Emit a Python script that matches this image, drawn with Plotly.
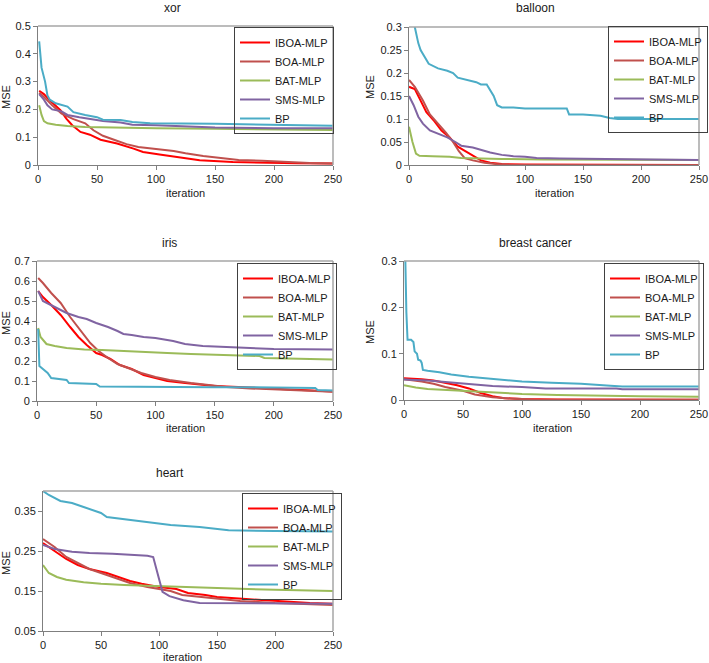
import plotly.graph_objects as go

W, H = 709, 663
NAMES = ["IBOA-MLP", "BOA-MLP", "BAT-MLP", "SMS-MLP", "BP"]
COLORS = ["#FF0000", "#C0504D", "#9BBB59", "#8064A2", "#4BACC6"]

# ---------------- xor ----------------
XOR_IBOA_IT = [1, 5, 10, 19, 24, 29, 36, 44, 53, 67, 81, 89, 103, 123, 137, 165, 194, 220, 250]
XOR_IBOA = [0.267, 0.255, 0.233, 0.197, 0.167, 0.143, 0.119, 0.109, 0.091, 0.077, 0.059, 0.047, 0.038, 0.026, 0.017, 0.011, 0.008, 0.006, 0.005]
XOR_BOA_IT = [1, 5, 12, 20, 30, 40, 47, 55, 65, 75, 85, 100, 115, 125, 140, 155, 170, 190, 210, 230, 250]
XOR_BOA = [0.26, 0.245, 0.215, 0.185, 0.165, 0.15, 0.125, 0.105, 0.09, 0.075, 0.065, 0.058, 0.05, 0.042, 0.032, 0.025, 0.018, 0.015, 0.01, 0.007, 0.005]
XOR_BAT_IT = [1, 3, 5, 8, 15, 25, 40, 60, 100, 150, 200, 250]
XOR_BAT = [0.215, 0.18, 0.158, 0.15, 0.145, 0.14, 0.137, 0.135, 0.132, 0.13, 0.128, 0.126]
XOR_SMS_IT = [1, 5, 8, 12, 20, 25, 35, 45, 55, 70, 80, 100, 130, 150, 200, 250]
XOR_SMS = [0.255, 0.235, 0.215, 0.2, 0.193, 0.18, 0.172, 0.165, 0.158, 0.153, 0.145, 0.143, 0.138, 0.135, 0.132, 0.132]
XOR_BP_IT = [1, 3, 6, 8, 10, 15, 25, 30, 40, 50, 55, 70, 80, 95, 150, 200, 250]
XOR_BP = [0.445, 0.35, 0.3, 0.25, 0.235, 0.222, 0.21, 0.19, 0.18, 0.172, 0.163, 0.162, 0.155, 0.15, 0.148, 0.145, 0.141]

# ---------------- balloon ----------------
BAL_IBOA_IT = [0, 5, 10, 15, 22, 28, 35, 42, 50, 57, 62, 70, 80, 100, 250]
BAL_IBOA = [0.17, 0.165, 0.14, 0.115, 0.095, 0.075, 0.06, 0.04, 0.028, 0.018, 0.01, 0.005, 0.002, 0.001, 0.0]
BAL_BOA_IT = [0, 5, 12, 18, 25, 32, 38, 43, 48, 55, 65, 75, 90, 250]
BAL_BOA = [0.185, 0.17, 0.14, 0.11, 0.09, 0.07, 0.05, 0.03, 0.015, 0.01, 0.005, 0.002, 0.0, 0.0]
BAL_BAT_IT = [0, 3, 6, 9, 20, 35, 45, 60, 80, 115, 250]
BAL_BAT = [0.083, 0.05, 0.025, 0.02, 0.019, 0.018, 0.015, 0.014, 0.013, 0.012, 0.011]
BAL_SMS_IT = [0, 4, 8, 12, 18, 25, 33, 40, 45, 55, 62, 70, 80, 90, 100, 110, 130, 170, 200, 250]
BAL_SMS = [0.15, 0.13, 0.105, 0.09, 0.075, 0.068, 0.06, 0.05, 0.042, 0.038, 0.033, 0.027, 0.022, 0.019, 0.018, 0.015, 0.014, 0.013, 0.012, 0.011]
BAL_BP_IT = [0, 5, 8, 10, 17, 25, 33, 38, 42, 50, 58, 62, 67, 73, 76, 80, 90, 100, 136, 138, 150, 165, 173, 180, 250]
BAL_BP = [0.4, 0.3, 0.265, 0.25, 0.22, 0.21, 0.205, 0.2, 0.19, 0.185, 0.18, 0.175, 0.175, 0.15, 0.13, 0.125, 0.125, 0.123, 0.123, 0.11, 0.11, 0.107, 0.102, 0.1, 0.1]

# ---------------- iris ----------------
IRIS_IBOA_IT = [1, 5, 12, 20, 28, 35, 42, 50, 55, 62, 70, 80, 90, 100, 110, 125, 140, 150, 170, 190, 210, 235, 250]
IRIS_IBOA = [0.55, 0.52, 0.48, 0.43, 0.37, 0.32, 0.28, 0.24, 0.23, 0.21, 0.18, 0.16, 0.13, 0.115, 0.1, 0.09, 0.08, 0.075, 0.07, 0.065, 0.06, 0.05, 0.048]
IRIS_BOA_IT = [1, 5, 12, 20, 28, 37, 45, 52, 60, 68, 77, 88, 100, 112, 130, 145, 160, 180, 200, 225, 250]
IRIS_BOA = [0.615, 0.59, 0.54, 0.49, 0.42, 0.35, 0.29, 0.25, 0.215, 0.185, 0.165, 0.14, 0.12, 0.105, 0.09, 0.08, 0.07, 0.063, 0.058, 0.052, 0.046]
IRIS_BAT_IT = [1, 3, 8, 15, 25, 40, 55, 70, 90, 110, 130, 150, 175, 188, 192, 220, 250]
IRIS_BAT = [0.365, 0.32, 0.285, 0.275, 0.265, 0.258, 0.255, 0.25, 0.245, 0.24, 0.235, 0.232, 0.228, 0.225, 0.215, 0.212, 0.208]
IRIS_SMS_IT = [1, 5, 15, 25, 35, 42, 50, 60, 68, 73, 80, 90, 100, 115, 125, 140, 160, 180, 200, 250]
IRIS_SMS = [0.55, 0.5, 0.47, 0.44, 0.42, 0.41, 0.39, 0.37, 0.35, 0.335, 0.33, 0.32, 0.315, 0.3, 0.285, 0.275, 0.27, 0.265, 0.26, 0.258]
IRIS_BP_IT = [1, 2, 5, 9, 12, 20, 25, 27, 35, 50, 53, 70, 90, 150, 200, 235, 237, 250]
IRIS_BP = [0.36, 0.175, 0.16, 0.14, 0.115, 0.11, 0.105, 0.09, 0.088, 0.085, 0.072, 0.072, 0.07, 0.069, 0.068, 0.065, 0.055, 0.053]

# ---------------- breast cancer ----------------
BC_IBOA_IT = [0, 15, 25, 35, 45, 55, 65, 75, 85, 100, 130, 250]
BC_IBOA = [0.047, 0.045, 0.042, 0.037, 0.032, 0.025, 0.015, 0.008, 0.004, 0.002, 0.001, 0.0005]
BC_BOA_IT = [0, 15, 25, 35, 50, 60, 75, 90, 110, 250]
BC_BOA = [0.045, 0.04, 0.035, 0.028, 0.02, 0.012, 0.006, 0.003, 0.001, 0.0005]
BC_BAT_IT = [0, 10, 20, 35, 50, 70, 100, 130, 170, 200, 250]
BC_BAT = [0.032, 0.027, 0.024, 0.022, 0.019, 0.016, 0.013, 0.011, 0.009, 0.008, 0.007]
BC_SMS_IT = [0, 20, 40, 55, 70, 75, 100, 120, 180, 185, 250]
BC_SMS = [0.044, 0.042, 0.038, 0.035, 0.032, 0.03, 0.028, 0.025, 0.025, 0.023, 0.023]
BC_BP_IT = [0, 1, 2, 3, 6, 8, 9, 11, 12, 14, 15, 16, 20, 30, 40, 55, 75, 90, 100, 125, 150, 175, 185, 250]
BC_BP = [0.45, 0.3, 0.19, 0.13, 0.13, 0.125, 0.105, 0.1, 0.087, 0.085, 0.08, 0.065, 0.063, 0.06, 0.055, 0.05, 0.045, 0.042, 0.04, 0.037, 0.035, 0.031, 0.029, 0.029]

# ---------------- heart ----------------
HE_IBOA_IT = [0, 10, 20, 30, 40, 55, 65, 75, 85, 100, 115, 125, 140, 150, 175, 200, 230, 250]
HE_IBOA = [0.27, 0.25, 0.23, 0.215, 0.205, 0.195, 0.185, 0.175, 0.168, 0.16, 0.155, 0.145, 0.14, 0.135, 0.13, 0.125, 0.12, 0.118]
HE_BOA_IT = [0, 10, 20, 30, 40, 50, 60, 75, 90, 100, 110, 120, 135, 150, 170, 200, 250]
HE_BOA = [0.28, 0.26, 0.235, 0.22, 0.205, 0.195, 0.185, 0.17, 0.16, 0.155, 0.15, 0.14, 0.135, 0.13, 0.125, 0.12, 0.115]
HE_BAT_IT = [0, 5, 12, 20, 35, 50, 70, 100, 120, 150, 180, 200, 250]
HE_BAT = [0.215, 0.195, 0.185, 0.178, 0.172, 0.168, 0.165, 0.162, 0.16, 0.158, 0.155, 0.153, 0.15]
HE_SMS_IT = [0, 10, 25, 40, 60, 80, 90, 95, 98, 101, 103, 109, 121, 135, 250]
HE_SMS = [0.265, 0.255, 0.248, 0.245, 0.243, 0.24, 0.238, 0.235, 0.202, 0.169, 0.148, 0.137, 0.127, 0.12, 0.118]
HE_BP_IT = [0, 5, 15, 25, 35, 45, 50, 55, 70, 85, 95, 110, 135, 150, 160, 200, 250]
HE_BP = [0.4, 0.39, 0.375, 0.37, 0.36, 0.35, 0.345, 0.335, 0.33, 0.325, 0.32, 0.315, 0.31, 0.305, 0.302, 0.3, 0.299]

TITLES = ["xor", "balloon", "iris", "breast cancer", "heart"]
Y_RANGES = [[0, 0.5], [0, 0.3], [0, 0.7], [0, 0.3], [0.05, 0.4]]
Y_TICKS = [[0, 0.1, 0.2, 0.3, 0.4, 0.5],
           [0, 0.05, 0.1, 0.15, 0.2, 0.25, 0.3],
           [0, 0.1, 0.2, 0.3, 0.4, 0.5, 0.6, 0.7],
           [0, 0.1, 0.2, 0.3],
           [0.05, 0.15, 0.25, 0.35]]
X_TICKS = [0, 50, 100, 150, 200, 250]

PANELS = [
    [(XOR_IBOA_IT, XOR_IBOA), (XOR_BOA_IT, XOR_BOA), (XOR_BAT_IT, XOR_BAT), (XOR_SMS_IT, XOR_SMS), (XOR_BP_IT, XOR_BP)],
    [(BAL_IBOA_IT, BAL_IBOA), (BAL_BOA_IT, BAL_BOA), (BAL_BAT_IT, BAL_BAT), (BAL_SMS_IT, BAL_SMS), (BAL_BP_IT, BAL_BP)],
    [(IRIS_IBOA_IT, IRIS_IBOA), (IRIS_BOA_IT, IRIS_BOA), (IRIS_BAT_IT, IRIS_BAT), (IRIS_SMS_IT, IRIS_SMS), (IRIS_BP_IT, IRIS_BP)],
    [(BC_IBOA_IT, BC_IBOA), (BC_BOA_IT, BC_BOA), (BC_BAT_IT, BC_BAT), (BC_SMS_IT, BC_SMS), (BC_BP_IT, BC_BP)],
    [(HE_IBOA_IT, HE_IBOA), (HE_BOA_IT, HE_BOA), (HE_BAT_IT, HE_BAT), (HE_SMS_IT, HE_SMS), (HE_BP_IT, HE_BP)],
]

# layout in pixels: plot area (left, right, top, bottom)
BOXES = [(38, 333, 26, 165), (409, 699, 27, 165), (37, 333, 261, 401), (404, 699, 261, 400), (43, 333, 491, 631)]
LEGENDS = [(234, 27), (608, 26), (237, 263), (604, 263), (242, 493)]
TITLE_POS = [(172, 8), (535, 8), (169, 243), (535, 243), (170, 473)]
XT_POS = [(185, 193), (554, 193), (185, 428), (552, 428), (182, 657)]
YT_POS = [(6, 97), (370, 87), (6, 323), (370, 332), (6, 563)]

FONT = "Arial, 'Liberation Sans', sans-serif"
fig = go.Figure()
layout = {}
annotations = []
shapes = []
for p in range(5):
    sfx = "" if p == 0 else str(p + 1)
    xa, ya = "x" + sfx, "y" + sfx
    lg = "legend" + sfx
    for k in range(5):
        it, val = PANELS[p][k]
        fig.add_trace(go.Scatter(x=it, y=val, mode="lines", name=NAMES[k],
                                 line=dict(color=COLORS[k], width=2),
                                 xaxis=xa, yaxis=ya, legend=lg, showlegend=True))
    l, r, t, b = BOXES[p]
    layout["xaxis" + sfx] = dict(domain=[l / W, r / W], anchor=ya, range=[0, 250], tickvals=X_TICKS,
                                 showline=True, linecolor="#7f7f7f", linewidth=1, ticks="outside",
                                 ticklen=4, tickcolor="#7f7f7f", showgrid=False, zeroline=False,
                                 automargin=False,
                                 tickfont=dict(size=11, color="#1a1a1a", family=FONT))
    layout["yaxis" + sfx] = dict(domain=[1 - b / H, 1 - t / H], anchor=xa, range=Y_RANGES[p], tickvals=Y_TICKS[p],
                                 showline=True, linecolor="#7f7f7f", linewidth=1, ticks="outside",
                                 ticklen=4, tickcolor="#7f7f7f", showgrid=False, zeroline=False,
                                 automargin=False,
                                 tickfont=dict(size=11, color="#1a1a1a", family=FONT))
    shapes.append(dict(type="line", xref="paper", yref="paper", x0=l / W, x1=r / W, y0=1 - t / H, y1=1 - t / H,
                       line=dict(color="#a6a6a6", width=1.5)))
    shapes.append(dict(type="line", xref="paper", yref="paper", x0=r / W, x1=r / W, y0=1 - t / H, y1=1 - b / H,
                       line=dict(color="#a6a6a6", width=1.5)))
    lx, ly = LEGENDS[p]
    layout[lg] = dict(x=lx / W, y=1 - ly / H, xanchor="left", yanchor="top", bgcolor="rgba(0,0,0,0)",
                      bordercolor="#404040", borderwidth=1, itemwidth=30, tracegroupgap=0,
                      font=dict(size=11, color="#1a1a1a", family=FONT))
    tx, ty = TITLE_POS[p]
    annotations.append(dict(text=TITLES[p], x=tx / W, y=1 - ty / H, xref="paper", yref="paper",
                            showarrow=False, xanchor="center", yanchor="middle",
                            font=dict(size=12, color="#1a1a1a", family=FONT)))
    xx, xy = XT_POS[p]
    annotations.append(dict(text="iteration", x=xx / W, y=1 - xy / H, xref="paper", yref="paper",
                            showarrow=False, xanchor="center", yanchor="middle",
                            font=dict(size=11, color="#1a1a1a", family=FONT)))
    yx, yy = YT_POS[p]
    annotations.append(dict(text="MSE", x=yx / W, y=1 - yy / H, xref="paper", yref="paper",
                            showarrow=False, xanchor="center", yanchor="middle", textangle=-90,
                            font=dict(size=11, color="#1a1a1a", family=FONT)))

fig.update_layout(**layout)
fig.update_layout(width=W, height=H, margin=dict(l=0, r=0, t=0, b=0, autoexpand=False), plot_bgcolor="white",
                  paper_bgcolor="white", annotations=annotations, shapes=shapes,
                  font=dict(family=FONT, size=11, color="#1a1a1a"))
fig.write_html("out.html", config={"displayModeBar": False},
               post_script="document.body.style.margin='0';document.body.style.overflow='hidden';")
